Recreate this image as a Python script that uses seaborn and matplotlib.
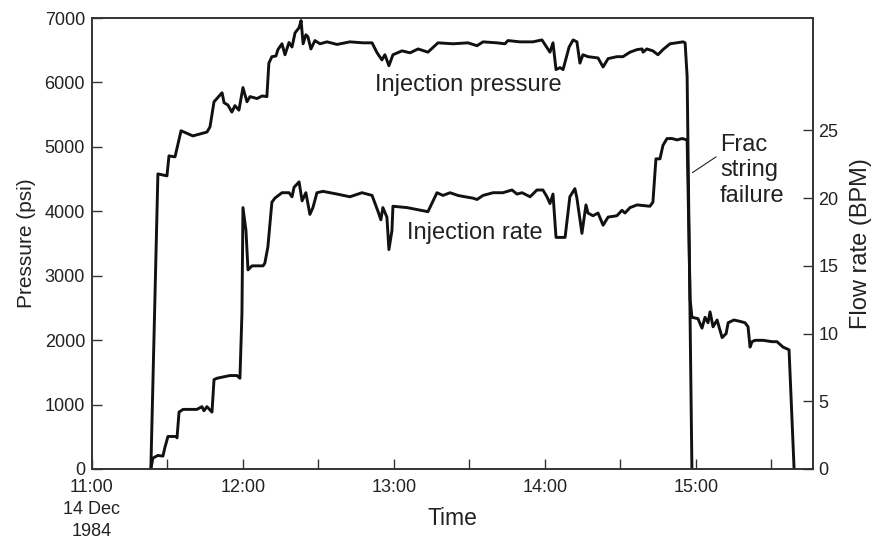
import numpy as np
import pandas as pd
import matplotlib
matplotlib.use('Agg')
import matplotlib.pyplot as plt
import seaborn as sns

# minutes after 11:00 (14 Dec 1984)
pres_time = [23.4, 26.2, 29.8, 30.6, 33.0, 35.4, 40.1, 45.7, 46.9, 48.5, 51.7, 52.5, 54.0, 55.6,
             56.8, 58.4, 60.0, 61.6, 62.8, 65.6, 67.6, 69.5, 70.3, 71.5, 73.1, 73.9, 75.5, 76.7,
             78.3, 79.5, 80.7, 82.3, 83.1, 83.9, 85.0, 85.8, 87.0, 88.6, 90.6, 93.4, 97.4, 102.5,
             107.7, 111.3, 113.3, 115.2, 116.4, 118.0, 119.6, 123.2, 126.4, 129.6, 133.5, 137.5,
             143.5, 149.4, 153.0, 155.4, 160.9, 164.1, 165.3, 170.1, 175.2, 178.8, 182.0, 183.2,
             184.4, 186.0, 187.2, 189.6, 191.2, 192.7, 193.9, 195.1, 197.1, 201.1, 203.1, 205.1,
             208.6, 211.0, 213.8, 216.6, 218.6, 219.0, 220.5, 222.9, 224.9, 226.9, 229.7, 234.9,
             235.7, 236.5, 238.4]
pressure = [0, 4580, 4550, 4860, 4845, 5250, 5170, 5230, 5310, 5700, 5840, 5685, 5650, 5540,
            5640, 5570, 5920, 5700, 5780, 5750, 5790, 5780, 6300, 6400, 6410, 6510, 6600, 6430,
            6620, 6550, 6770, 6850, 6960, 6600, 6740, 6710, 6520, 6650, 6600, 6630, 6590, 6630,
            6615, 6615, 6460, 6350, 6430, 6260, 6430, 6490, 6460, 6520, 6470, 6615,
            6600, 6615, 6570, 6630, 6615, 6600, 6650, 6630, 6630, 6660, 6470, 6615,
            6200, 6230, 6200, 6550, 6660, 6630, 6300, 6430, 6400, 6380, 6240, 6370,
            6400, 6400, 6470, 6510, 6520, 6470, 6520, 6490, 6430, 6510, 6600, 6630,
            6615, 6090, 0]

rate_time = [23.4, 24.2, 26.2, 28.2, 29.0, 30.2, 33.4, 33.8, 34.6, 36.2, 41.7, 43.7, 44.5, 45.7,
             47.7, 48.5, 49.7, 54.8, 57.6, 58.8, 59.6, 60.0, 61.2, 62.0, 63.6, 68.0, 68.7, 69.9,
             71.5, 72.7, 75.5, 78.3, 79.5, 80.3, 82.3, 83.5, 85.0, 86.6, 87.8, 89.4, 91.8, 97.4,
             102.5, 107.3, 111.3, 112.5, 113.7, 114.8, 115.6, 117.2, 118.0, 119.2, 119.6, 125.2,
             133.5, 137.1, 139.5, 142.3, 145.4, 148.2, 151.4, 153.0, 155.4, 159.4, 163.3, 166.9,
             168.9, 170.9, 174.1, 176.8, 179.2, 180.8, 182.0, 183.2, 184.4, 188.0, 189.9, 191.9,
             192.7, 194.7, 196.3, 197.1, 199.1, 201.1, 203.1, 205.1, 208.6, 210.6, 211.8, 213.8,
             216.6, 221.7, 222.9, 224.1, 225.7, 226.9, 228.5, 230.5, 232.5, 234.5, 236.5, 237.7,
             238.4, 240.8, 242.4, 243.6, 244.8, 245.6, 246.8, 248.4, 250.4, 252.0, 252.8, 255.1,
             257.5, 259.5, 260.7, 261.5, 262.3, 263.5, 266.7, 270.2, 272.2, 274.6, 277.0, 279.0]
rate = [0, 0.8, 1.0, 0.95, 1.6, 2.4, 2.4, 2.3, 4.2, 4.4, 4.4, 4.6, 4.3, 4.6,
        4.2, 6.6, 6.7, 6.9, 6.9, 6.7, 11.5, 19.3, 17.6, 14.7, 15.0, 15.0, 15.2, 16.4,
        19.7, 20.0, 20.4, 20.4, 20.1, 20.8, 21.2, 19.8, 20.4, 18.8, 19.3, 20.4, 20.5, 20.3,
        20.1, 20.4, 20.2, 19.6, 19.0, 18.4, 19.3, 18.6, 16.2, 17.6, 19.4, 19.3,
        19.0, 20.4, 20.2, 20.4, 20.2, 20.1, 20.0, 19.9, 20.2, 20.4, 20.4, 20.6,
        20.3, 20.4, 20.1, 20.6, 20.6, 20.1, 19.6, 20.3, 17.1, 17.1, 20.1, 20.7,
        20.0, 17.4, 19.5, 18.9, 18.7, 18.9, 18.0, 18.6, 18.7, 19.1, 18.9, 19.3,
        19.5, 19.4, 19.7, 22.9, 22.9, 23.9, 24.4, 24.4, 24.3, 24.4, 24.3, 12.5,
        11.2, 11.1, 10.4, 11.2, 10.8, 11.6, 10.5, 11.0, 9.7, 10.0, 10.8, 11.0,
        10.9, 10.8, 10.5, 9.0, 9.4, 9.5, 9.5, 9.4, 9.4, 9.0, 8.8, 0]

hour_ticks = [0, 60, 120, 180, 240]
hour_labels = ['11:00\n14 Dec\n1984', '12:00', '13:00', '14:00', '15:00']
half_ticks = [30, 90, 150, 210, 270]
pres_ticks = [0, 1000, 2000, 3000, 4000, 5000, 6000, 7000]
rate_ticks = [0, 5, 10, 15, 20, 25]

df_p = pd.DataFrame({'t': pres_time, 'p': pressure})
df_r = pd.DataFrame({'t': rate_time, 'r': rate})

sns.set_style('ticks')
plt.rcParams['font.family'] = ['Liberation Sans', 'DejaVu Sans']
txt = '#222222'
spine = '#333333'

fig = plt.figure(figsize=(8.75, 5.38), dpi=100)
ax = fig.add_axes([0.1051, 0.1283, 0.824, 0.8382])
ax2 = ax.twinx()

sns.lineplot(data=df_p, x='t', y='p', ax=ax, color='#111111', lw=2.1,
             estimator=None, sort=False)
sns.lineplot(data=df_r, x='t', y='r', ax=ax2, color='#111111', lw=2.1,
             estimator=None, sort=False)

ax.set_xlim(0, 286.5)
ax.set_ylim(0, 7000)
ax2.set_ylim(0, 33.3)

ax.set_xticks(hour_ticks)
ax.set_xticklabels(hour_labels, fontsize=13, color=txt, linespacing=1.38)
ax.set_xticks(half_ticks, minor=True)
ax.set_yticks(pres_ticks)
ax.set_yticklabels([str(v) for v in pres_ticks], fontsize=13, color=txt)
ax2.set_yticks(rate_ticks)
ax2.set_yticklabels([str(v) for v in rate_ticks], fontsize=13, color=txt)

ax.tick_params(axis='both', which='both', direction='in', length=7, width=1,
               color=spine, top=False, right=False)
ax.tick_params(axis='x', which='both', pad=7)
ax.tick_params(axis='y', pad=5)
ax2.tick_params(axis='y', direction='in', length=7, width=1, color=spine, pad=4)

for a in (ax, ax2):
    for s in a.spines.values():
        s.set_visible(True)
        s.set_color(spine)
        s.set_linewidth(1.2)

ax.set_xlabel('Time', fontsize=16.5, color=txt, va='center')
ax.xaxis.set_label_coords(0.5, -0.109)
ax.set_ylabel('Pressure (psi)', fontsize=15, color=txt, labelpad=6)
ax2.set_ylabel('Flow rate (BPM)', fontsize=17, color=txt, labelpad=8)

ax.text(112.5, 5960, 'Injection pressure', fontsize=17, color=txt, va='center', ha='left')
ax.text(125.2, 3660, 'Injection rate', fontsize=17, color=txt, va='center', ha='left')
ax.annotate('', xy=(238.6, 4600), xytext=(248.0, 4845),
            arrowprops=dict(arrowstyle='-', color=txt, lw=0.8, shrinkA=0, shrinkB=0))
ax.text(249.6, 5200, 'Frac\nstring\nfailure', fontsize=17, color=txt,
        ha='left', va='top', linespacing=1.2)

fig.savefig('out.png', dpi=100)
